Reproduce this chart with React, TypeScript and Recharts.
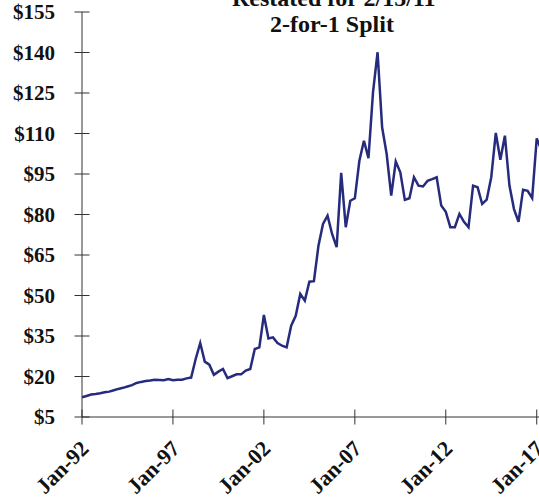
import { Line, LineChart, XAxis, YAxis } from 'recharts';

// quarterly price, first point Jan-92 (restated for the 2/15/11 split)
const startYear = 1992;
const prices = [
  12.3, 12.8, 13.3, 13.5, 13.8, 14.2, 14.4, 14.9, 15.4, 15.8,
  16.3, 16.8, 17.6, 18.0, 18.3, 18.5, 18.8, 18.7, 18.6, 19.1,
  18.6, 18.8, 18.8, 19.3, 19.6, 26.5, 32.4, 25.5, 24.4, 20.6,
  21.8, 22.8, 19.4, 20.1, 20.8, 20.8, 22.2, 22.8, 30.2, 30.8,
  42.8, 34.1, 34.5, 32.4, 31.4, 30.8, 38.8, 42.5, 50.6, 48.1,
  55.1, 55.3, 68.4, 76.5, 79.6, 72.8, 67.9, 95.4, 75.3, 85.1,
  86.0, 99.9, 107.3, 100.9, 125.3, 140.1, 112.3, 102.4, 87.0, 99.6,
  95.6, 85.4, 86.0, 93.8, 90.7, 90.4, 92.5, 93.1, 93.8, 83.3,
  81.0, 75.3, 75.3, 80.2, 77.3, 75.3, 90.7, 90.1, 83.9, 85.5,
  93.8, 110.2, 100.3, 109.2, 90.7, 82.0, 77.3, 89.2, 88.8, 86.1,
  108.2, 104.0,
];

const xTicks = [1992, 1997, 2002, 2007, 2012, 2017];
const xLabels = ['Jan-92', 'Jan-97', 'Jan-02', 'Jan-07', 'Jan-12', 'Jan-17'];
const yTicks = [5, 20, 35, 50, 65, 80, 95, 110, 125, 140, 155];

const data = prices.map((price, i) => ({
  t: startYear + i / 4,
  price,
}));

const FONT = '"Liberation Serif", "Times New Roman", serif';
const AXIS = '#333';

function YTick(props: any) {
  const { x, y, payload } = props;
  return (
    <g>
      <line x1={x - 7.5} x2={x + 7.5} y1={y} y2={y} stroke={AXIS} strokeWidth={1} />
      <text
        x={x - 27}
        y={y}
        dy="0.35em"
        textAnchor="end"
        fontFamily={FONT}
        fontWeight="bold"
        fontSize={21}
        fill="#111"
      >
        {`$${payload.value}`}
      </text>
    </g>
  );
}

function XTick(props: any) {
  const { x, y, payload } = props;
  const label = xLabels[xTicks.indexOf(payload.value)];
  const tx = x + 8;
  const ty = y + 33;
  return (
    <g>
      <line x1={x} x2={x} y1={y - 7.5} y2={y + 7.5} stroke={AXIS} strokeWidth={1} />
      <text
        x={tx}
        y={ty}
        textAnchor="end"
        transform={`rotate(-45, ${tx}, ${ty})`}
        fontFamily={FONT}
        fontWeight="bold"
        fontSize={22}
        fill="#111"
      >
        {label}
      </text>
    </g>
  );
}

export default function App() {
  return (
    <div
      style={{
        position: 'absolute',
        left: 0,
        top: 0,
        width: 539,
        height: 499,
        overflow: 'hidden',
        background: '#fff',
      }}
    >
      <div
        style={{
          position: 'absolute',
          left: 232,
          width: 200,
          top: -15,
          textAlign: 'center',
          fontFamily: FONT,
          fontWeight: 'bold',
          fontSize: 24,
          lineHeight: '26px',
          color: '#111',
          whiteSpace: 'nowrap',
        }}
      >
        <div>Restated for 2/15/11</div>
        <div>2-for-1 Split</div>
      </div>
      <LineChart
        width={548}
        height={499}
        data={data}
        margin={{ top: 12, right: 0, bottom: 0, left: 0 }}
      >
        <XAxis
          type="number"
          dataKey="t"
          domain={[1992, 2017.62]}
          ticks={xTicks}
          height={82}
          tickSize={0}
          tickMargin={0}
          tickLine={false}
          axisLine={{ stroke: AXIS, strokeWidth: 1 }}
          tick={<XTick />}
          interval={0}
        />
        <YAxis
          domain={[5, 155]}
          ticks={yTicks}
          width={82}
          tickSize={0}
          tickMargin={0}
          tickLine={false}
          axisLine={{ stroke: AXIS, strokeWidth: 1 }}
          tick={<YTick />}
          interval={0}
        />
        <Line
          type="linear"
          dataKey="price"
          stroke="#262b7d"
          strokeWidth={2.5}
          dot={false}
          isAnimationActive={false}
        />
      </LineChart>
    </div>
  );
}
